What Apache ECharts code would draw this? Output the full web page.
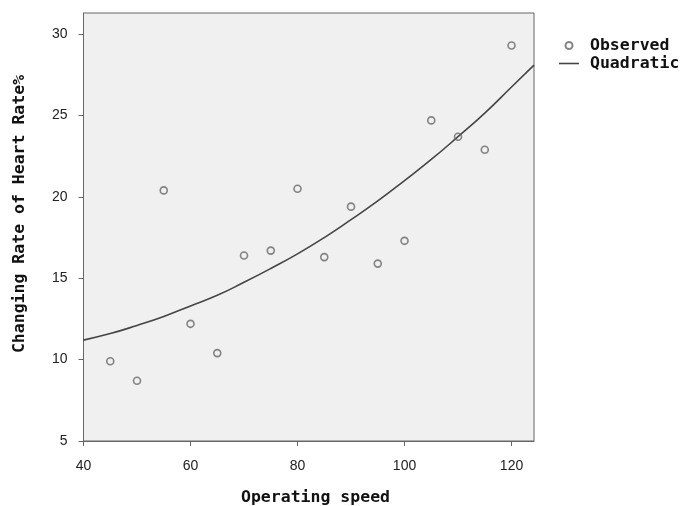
<!DOCTYPE html>
<html>
<head>
<meta charset="utf-8">
<script src="https://cdn.jsdelivr.net/npm/echarts@6/dist/echarts.min.js"></script>
<style>html,body{margin:0;padding:0;background:#fff}#c{width:684px;height:506px}</style>
</head>
<body>
<div id="c"></div>
<script>
// Observed data
const speeds = [45, 50, 55, 60, 65, 70, 75, 80, 85, 90, 95, 100, 105, 110, 115, 120];
const heartRateChange = [9.9, 8.7, 20.4, 12.2, 10.4, 16.4, 16.7, 20.5, 16.3, 19.4, 15.9, 17.3, 24.7, 23.7, 22.9, 29.3];
// Quadratic fit curve
const curveX = [40, 45, 50, 55, 60, 65, 70, 75, 80, 85, 90, 95, 100, 105, 110, 115, 120, 124.2];
const curveY = [11.2, 11.6, 12.1, 12.65, 13.3, 13.95, 14.75, 15.6, 16.5, 17.5, 18.6, 19.75, 21.0, 22.3, 23.7, 25.15, 26.75, 28.1];
const xTicks = [40, 60, 80, 100, 120];
const yTicks = [5, 10, 15, 20, 25, 30];
const seriesNames = ['Observed', 'Quadratic'];
const xTitle = 'Operating speed';
const yTitle = 'Changing Rate of Heart Rate%';

const chart = echarts.init(document.getElementById('c'));
const mono = '"DejaVu Sans Mono", "Liberation Mono", monospace';
const tickFont = {fontFamily: '"Liberation Sans", Arial, sans-serif', fontSize: 14, color: '#222'};
chart.setOption({
  animation: false,
  backgroundColor: '#fff',
  grid: {left: 83.5, right: 150, top: 13, bottom: 65, show: true, backgroundColor: '#f0f0f0', borderColor: '#666', borderWidth: 1},
  legend: {
    orient: 'vertical', left: 559, top: 37, padding: 0, itemWidth: 20, itemHeight: 7, itemGap: 1,
    data: [
      {name: seriesNames[0], icon: 'circle'},
      {name: seriesNames[1], icon: 'path://M0,0L20,0L20,1.6L0,1.6Z', itemStyle: {color: '#444', borderWidth: 0}}
    ],
    textStyle: {fontFamily: mono, fontWeight: 'bold', fontSize: 16.5, color: '#111', padding: [0, 0, 0, 6]}
  },
  xAxis: {
    type: 'value', min: xTicks[0], max: 124.2, interval: 20,
    axisLine: {show: true, lineStyle: {color: '#666', width: 1}},
    axisTick: {show: true, length: 5, lineStyle: {color: '#666'}},
    splitLine: {show: false},
    axisLabel: Object.assign({margin: 18, showMaxLabel: false, formatter: v => xTicks.includes(v) ? String(v) : ''}, tickFont)
  },
  yAxis: {
    type: 'value', min: yTicks[0], max: 31.3, interval: 5,
    axisLine: {show: true, lineStyle: {color: '#666', width: 1}},
    axisTick: {show: true, length: 5, lineStyle: {color: '#666'}},
    splitLine: {show: false},
    axisLabel: Object.assign({margin: 16, showMaxLabel: false, formatter: v => yTicks.includes(v) ? String(v) : ''}, tickFont)
  },
  graphic: [
    {type: 'text', left: 241, top: 489, style: {text: xTitle, font: 'bold 16.5px ' + mono, fill: '#111'}},
    {type: 'text', x: 20, y: 214, rotation: Math.PI / 2, style: {text: yTitle, font: 'bold 16.5px ' + mono, fill: '#111', align: 'center', verticalAlign: 'middle'}}
  ],
  series: [
    {
      name: seriesNames[0], type: 'scatter', symbol: 'circle', symbolSize: 7,
      itemStyle: {color: 'rgba(0,0,0,0)', borderColor: '#666', borderWidth: 1.6},
      data: speeds.map((s, i) => [s, heartRateChange[i]]), z: 3
    },
    {
      name: seriesNames[1], type: 'line', smooth: true, symbol: 'none', showSymbol: false,
      lineStyle: {color: '#444', width: 1.6},
      itemStyle: {color: '#444'},
      data: curveX.map((x, i) => [x, curveY[i]]), z: 2
    }
  ]
});
</script>
</body>
</html>
